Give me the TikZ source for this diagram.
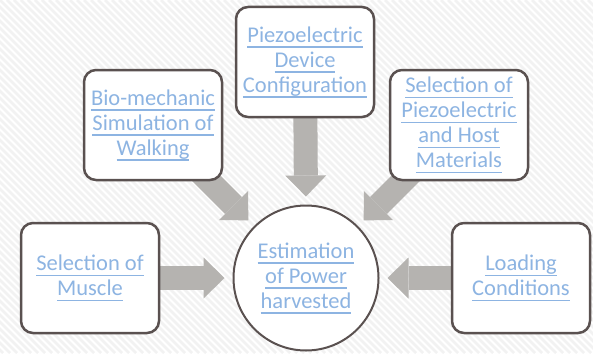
\documentclass[tikz,border=0pt]{standalone}
\usepackage{fontspec}
\setmainfont{Carlito}
\usetikzlibrary{arrows.meta}
\definecolor{txtblue}{RGB}{141,180,226}
\definecolor{boxline}{RGB}{90,81,80}
\definecolor{arrgray}{RGB}{181,179,176}
\newcommand\ulx[1]{\leavevmode\setbox0\hbox{#1}\rlap{\rule[-5.5pt]{\wd0}{1.5pt}}\box0}
\pgfdeclarelayer{bg}
\pgfdeclarelayer{arr}
\pgfsetlayers{bg,arr,main}
\tikzset{
  infobox/.style={draw=boxline, line width=2.5pt, rounded corners=12pt, fill=white,
    minimum width=138pt, minimum height=110pt, align=center,
    font=\fontsize{22.5}{25}\selectfont, text=txtblue, inner sep=0pt},
  hubcircle/.style={circle, draw=boxline, line width=2pt, fill=white,
    minimum size=145pt, align=center,
    font=\fontsize{22.5}{25}\selectfont, text=txtblue, inner sep=0pt},
  blockarrow/.style={draw=arrgray, line width=24pt, line cap=butt,
    -{Triangle[length=21pt,width=41pt,line width=0pt,fill=arrgray]}, shorten >=8pt}
}
\begin{document}
\begin{tikzpicture}[x=1pt,y=-1pt]
\useasboundingbox (0,0) rectangle (593,353);
\begin{pgfonlayer}{bg}
\begin{scope}
\clip (0,0) rectangle (593,353);
\fill[white] (0,0) rectangle (593,353);
\foreach \x in {-364,-357,...,600} \draw[black!5, line width=2.5pt] (\x,0) -- (\x+353,353);
\end{scope}
\end{pgfonlayer}

\node[hubcircle] (est) at (306,278) {\ulx{Estimation}\\\ulx{of Power}\\\ulx{harvested}};
\node[infobox] (top) at (305,62) {\ulx{Piezoelectric}\\\ulx{Device}\\\ulx{Configuration}};
\node[infobox] (bio) at (153,125) {\ulx{Bio-mechanic}\\\ulx{Simulation of}\\\ulx{Walking}};
\node[infobox] (mat) at (459,125) {\ulx{Selection of}\\\ulx{Piezoelectric}\\\ulx{and Host}\\\ulx{Materials}};
\node[infobox] (mus) at (90,278) {\ulx{Selection of}\\\ulx{Muscle}};
\node[infobox] (load) at (521,278) {\ulx{Loading}\\\ulx{Conditions}};

\begin{pgfonlayer}{arr}
\draw[blockarrow] (top.center) -- (est.north);
\draw[blockarrow] (bio.center) -- (est.135);
\draw[blockarrow] (mat.center) -- (est.45);
\draw[blockarrow] (mus.center) -- (est.west);
\draw[blockarrow] (load.center) -- (est.east);
\end{pgfonlayer}
\end{tikzpicture}
\end{document}
